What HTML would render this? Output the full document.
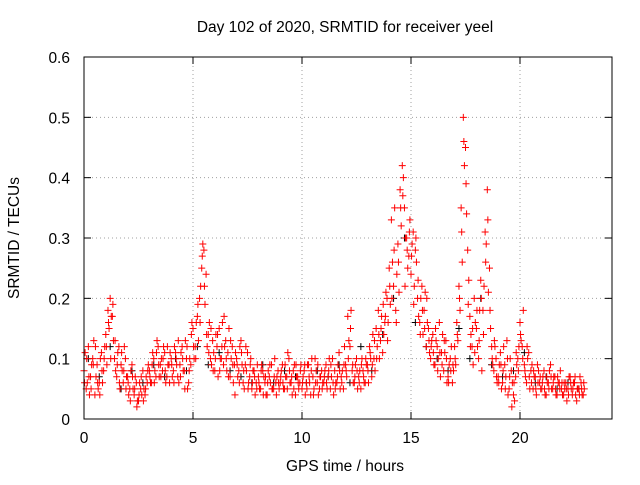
<!DOCTYPE html>
<html><head><meta charset="utf-8"><style>
body{margin:0;background:#fff;}
svg text{font-family:"Liberation Sans",sans-serif;font-size:15.5px;fill:#000;}
</style></head><body>
<svg id="chart" width="640" height="480" xmlns="http://www.w3.org/2000/svg">
<text x="345" y="32" text-anchor="middle">Day 102 of 2020, SRMTID for receiver yeel</text>
<text x="345" y="471" text-anchor="middle">GPS time / hours</text>
<text transform="translate(19,238) rotate(-90)" text-anchor="middle">SRMTID / TECUs</text>
<g id="grid"></g><g id="axes"></g><g id="marks"></g>
<rect x="84" y="57" width="528" height="362" fill="none" stroke="#000" stroke-width="1"/>
</svg>
<script>
const xTicks=[0,5,10,15,20];
const yTicks=[0,0.1,0.2,0.3,0.4,0.5,0.6];
const yTickLabels=["0","0.1","0.2","0.3","0.4","0.5","0.6"];
const seriesA=[0.08,0.05,0.12,0.07,0.10,0.04,0.09,0.06,0.11,0.08,
0.14,0.18,0.20,0.17,0.10,0.07,0.12,0.09,0.06,0.10,
0.07,0.05,0.09,0.04,0.06,0.03,0.05,0.08,0.04,0.06,
0.08,0.06,0.10,0.07,0.12,0.09,0.08,0.11,0.07,0.09,
0.10,0.08,0.11,0.07,0.09,0.12,0.08,0.10,0.06,0.09,
0.15,0.12,0.17,0.20,0.25,0.28,0.24,0.14,0.10,0.13,
0.08,0.12,0.15,0.10,0.09,0.13,0.11,0.07,0.12,0.09,
0.10,0.08,0.13,0.06,0.09,0.11,0.07,0.05,0.08,0.06,
0.07,0.05,0.08,0.06,0.04,0.07,0.09,0.05,0.06,0.08,
0.06,0.09,0.05,0.07,0.10,0.06,0.08,0.04,0.07,0.06,
0.05,0.08,0.06,0.09,0.04,0.07,0.10,0.06,0.05,0.08,
0.06,0.09,0.07,0.05,0.10,0.08,0.06,0.11,0.07,0.05,
0.09,0.17,0.12,0.08,0.06,0.10,0.07,0.05,0.08,0.06,
0.09,0.12,0.07,0.10,0.15,0.18,0.13,0.11,0.16,0.20,
0.25,0.33,0.22,0.18,0.29,0.38,0.42,0.35,0.30,0.27,
0.24,0.31,0.28,0.20,0.16,0.22,0.18,0.12,0.15,0.10,
0.14,0.09,0.12,0.16,0.11,0.08,0.13,0.07,0.10,0.06,
0.12,0.16,0.22,0.35,0.50,0.45,0.28,0.17,0.12,0.20,
0.15,0.10,0.23,0.18,0.31,0.38,0.25,0.12,0.08,0.10,
0.07,0.11,0.06,0.09,0.13,0.05,0.08,0.04,0.07,0.10,
0.16,0.12,0.09,0.06,0.11,0.08,0.05,0.07,0.09,0.06,
0.05,0.08,0.04,0.06,0.09,0.05,0.07,0.04,0.06,0.05,
0.04,0.06,0.05,0.07,0.04,0.06,0.03,0.05,0.06,0.04];
const seriesB=[0.11,0.06,0.04,0.09,0.13,0.07,0.05,0.10,0.06,0.12,
0.09,0.15,0.17,0.13,0.08,0.11,0.05,0.08,0.12,0.07,
0.04,0.08,0.05,0.07,0.03,0.06,0.04,0.05,0.07,0.09,
0.06,0.11,0.08,0.13,0.07,0.10,0.12,0.06,0.09,0.11,
0.07,0.12,0.09,0.06,0.11,0.08,0.13,0.05,0.10,0.16,
0.10,0.16,0.13,0.22,0.29,0.19,0.12,0.16,0.09,0.11,
0.14,0.07,0.10,0.16,0.12,0.08,0.15,0.10,0.06,0.11,
0.07,0.12,0.09,0.05,0.08,0.06,0.10,0.08,0.04,0.09,
0.05,0.09,0.07,0.04,0.08,0.06,0.05,0.10,0.07,0.05,
0.08,0.05,0.07,0.11,0.06,0.04,0.09,0.07,0.05,0.09,
0.07,0.04,0.09,0.06,0.10,0.05,0.08,0.04,0.07,0.06,
0.08,0.05,0.10,0.07,0.04,0.06,0.09,0.05,0.08,0.12,
0.07,0.13,0.18,0.06,0.09,0.05,0.08,0.10,0.06,0.09,
0.06,0.10,0.14,0.08,0.12,0.10,0.17,0.14,0.21,0.16,
0.19,0.26,0.35,0.24,0.21,0.32,0.40,0.30,0.25,0.33,
0.29,0.22,0.26,0.17,0.20,0.14,0.21,0.16,0.11,0.13,
0.09,0.13,0.10,0.07,0.14,0.11,0.06,0.09,0.12,0.08,
0.09,0.13,0.18,0.26,0.42,0.34,0.23,0.14,0.09,0.16,
0.12,0.18,0.08,0.22,0.29,0.21,0.15,0.09,0.12,0.06,
0.09,0.05,0.12,0.07,0.04,0.10,0.06,0.03,0.09,0.12,
0.13,0.18,0.07,0.10,0.05,0.09,0.07,0.04,0.08,0.05,
0.07,0.04,0.06,0.08,0.05,0.07,0.04,0.06,0.08,0.04,
0.05,0.03,0.07,0.05,0.06,0.04,0.05,0.07,0.04,0.05];
const seriesC=[0.06,0.10,0.07,0.05,0.09,0.12,0.06,0.04,0.08,0.10,
0.12,0.16,0.10,0.19,0.13,0.09,0.06,0.11,0.08,0.05,
0.06,0.03,0.07,0.05,0.02,0.04,0.07,0.03,0.05,0.08,
0.07,0.09,0.06,0.11,0.09,0.07,0.10,0.08,0.12,0.06,
0.09,0.06,0.10,0.13,0.07,0.10,0.05,0.12,0.08,0.14,
0.12,0.10,0.19,0.16,0.27,0.22,0.14,0.11,0.15,0.08,
0.10,0.14,0.08,0.12,0.17,0.10,0.07,0.13,0.09,0.04,
0.09,0.06,0.11,0.08,0.12,0.05,0.09,0.06,0.07,0.05,
0.06,0.08,0.04,0.07,0.06,0.09,0.05,0.07,0.04,0.06,
0.07,0.06,0.09,0.05,0.08,0.07,0.05,0.09,0.06,0.08,
0.06,0.09,0.05,0.07,0.08,0.04,0.06,0.09,0.07,0.05,
0.07,0.06,0.08,0.09,0.06,0.05,0.07,0.08,0.06,0.09,
0.08,0.10,0.15,0.09,0.07,0.08,0.06,0.09,0.07,0.10,
0.08,0.11,0.09,0.13,0.10,0.14,0.15,0.19,0.17,0.13,
0.22,0.20,0.28,0.16,0.26,0.35,0.37,0.22,0.28,0.31,
0.27,0.19,0.30,0.23,0.14,0.18,0.15,0.20,0.13,0.12,
0.11,0.15,0.08,0.11,0.09,0.13,0.10,0.06,0.08,0.09,
0.10,0.14,0.20,0.31,0.46,0.39,0.19,0.12,0.15,0.11,
0.18,0.13,0.20,0.14,0.26,0.33,0.18,0.10,0.13,0.07,
0.06,0.09,0.08,0.05,0.10,0.07,0.02,0.06,0.11,0.08,
0.14,0.10,0.08,0.12,0.07,0.06,0.08,0.05,0.06,0.07,
0.06,0.05,0.07,0.05,0.07,0.06,0.05,0.07,0.05,0.06,
0.06,0.05,0.04,0.06,0.05,0.07,0.05,0.04,0.05,0.06];
const seriesBlack=[0.10,0.07,0.12,0.05,0.08,0.06,0.09,0.07,0.10,0.08,0.12,0.09,0.11,0.08,0.07,0.06,0.09,0.06,0.08,0.07,0.06,0.08,0.07,0.09,0.06,0.12,0.08,0.14,0.20,0.30,0.16,0.12,0.10,0.08,0.15,0.10,0.20,0.09,0.07,0.08,0.11,0.06,0.07,0.05,0.06,0.05];
const stepA=0.1, stepBlack=0.5;
const X0=84,X1=612,Y0=419,Y1=57,XMAX=24.22,YMAX=0.6;
function sx(v){return X0+(X1-X0)*v/XMAX;}
function sy(v){return Y0-(Y0-Y1)*v/YMAX;}
const NS="http://www.w3.org/2000/svg";
const grid=document.getElementById('grid'),axes=document.getElementById('axes'),marks=document.getElementById('marks');
function ln(p,x1,y1,x2,y2,st,dash){const l=document.createElementNS(NS,'line');l.setAttribute('x1',x1);l.setAttribute('y1',y1);l.setAttribute('x2',x2);l.setAttribute('y2',y2);l.setAttribute('stroke',st);if(dash)l.setAttribute('stroke-dasharray',dash);p.appendChild(l);return l;}
function tx(p,x,y,s,a){const t=document.createElementNS(NS,'text');t.setAttribute('x',x);t.setAttribute('y',y);t.setAttribute('text-anchor',a);t.textContent=s;p.appendChild(t);return t;}
yTicks.forEach((v,i)=>{const y=sy(v);
 if(i>0&&i<yTicks.length-1){const g=ln(grid,X0,y,X1,y,'#a0a0a0','1,3');
 
 }
 ln(axes,X0,y,X0+7,y,'#000');ln(axes,X1,y,X1-7,y,'#000');
 const t=tx(axes,X0-14,y+6,yTickLabels[i],'end');
 
 });
xTicks.forEach(v=>{const x=sx(v);
 if(v>0){const g=ln(grid,x,Y0,x,Y1,'#a0a0a0','1,3');
 
 }
 ln(axes,x,Y0,x,Y0-7,'#000');ln(axes,x,Y1,x,Y1+7,'#000');
 const t=tx(axes,x,Y0+24,String(v),'middle');
 
 });
function plus(t,v,col,name){const x=sx(t),y=sy(v);const p=document.createElementNS(NS,'path');
 p.setAttribute('d',`M${x-3.5} ${y}H${x+3.5}M${x} ${y-3.5}V${y+3.5}`);p.setAttribute('stroke',col);p.setAttribute('fill','none');
 
 
 marks.appendChild(p);}
seriesBlack.forEach((v,i)=>plus(i*stepBlack+0.2,v,'#000','black-point'));
seriesA.forEach((v,i)=>plus(i*stepA,v,'#f00','red-point'));
seriesB.forEach((v,i)=>plus(i*stepA+0.05,v,'#f00','red-point'));
seriesC.forEach((v,i)=>plus(i*stepA+0.025,v,'#f00','red-point'));
</script>
</body></html>
